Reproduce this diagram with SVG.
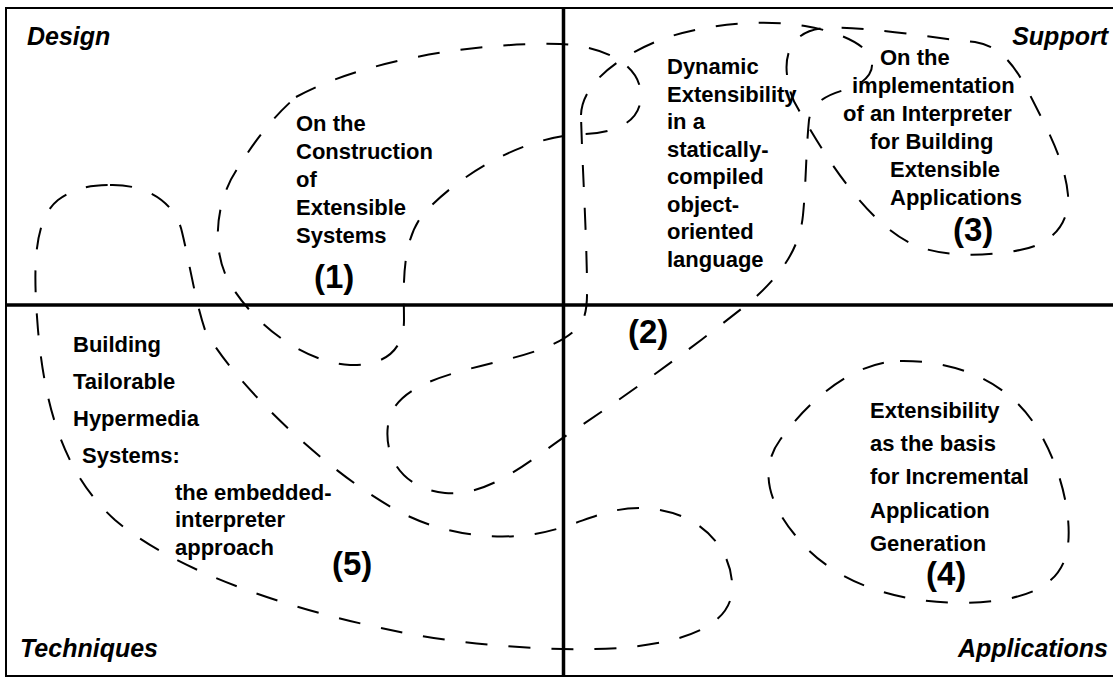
<svg xmlns="http://www.w3.org/2000/svg" width="1113" height="677" viewBox="0 0 1113 677">
  <style>
    .frame { fill: none; stroke: #000; stroke-width: 2; }
    .axis { stroke: #000; stroke-width: 3.5; }
    .blob { fill: none; stroke: #000; stroke-width: 2; stroke-dasharray: 22 21; stroke-linecap: butt; }
    .t { font-family: "Liberation Sans", Arial, sans-serif; font-weight: bold; font-size: 22px; fill: #000; }
    .num { font-family: "Liberation Sans", Arial, sans-serif; font-weight: bold; font-size: 33px; fill: #000; }
    .quad { font-family: "Liberation Sans", Arial, sans-serif; font-weight: bold; font-style: italic; font-size: 25px; fill: #000; }
  </style>
  <rect width="1113" height="677" fill="#fff"/>

  <!-- frame and quadrant axes -->
  <g id="frame">
    <rect class="frame" x="6" y="8" width="1120" height="668"/>
    <line class="axis" x1="6" y1="305" x2="1113" y2="305"/>
    <line class="axis" x1="563.5" y1="8" x2="563.5" y2="677"/>
  </g>

  <!-- quadrant titles -->
  <g id="quadrants">
    <text class="quad" x="27" y="45">Design</text>
    <text class="quad" x="1108" y="45" text-anchor="end">Support</text>
    <text class="quad" x="20" y="657">Techniques</text>
    <text class="quad" x="1108" y="657" text-anchor="end">Applications</text>
  </g>

  <!-- (1) On the Construction of Extensible Systems -->
  <g id="node1">
    <path class="blob" d="M296,97 C360,62 470,42 560,44 C600,46 640,62 641,95 C641,125 610,134 580,134 C520,138 460,175 425,212 C400,240 404,290 404,320 C404,350 385,366 350,365 C300,362 250,320 228,280 C212,250 214,200 240,165 C255,140 275,115 296,97 Z"/>
    <text class="t" x="296" y="131">On the</text>
    <text class="t" x="296" y="159">Construction</text>
    <text class="t" x="296" y="187">of</text>
    <text class="t" x="296" y="215">Extensible</text>
    <text class="t" x="296" y="243">Systems</text>
    <text class="num" x="314" y="288">(1)</text>
  </g>

  <!-- (2) Dynamic Extensibility in a statically-compiled object-oriented language -->
  <g id="node2">
    <path class="blob" d="M581,115 C582,85 615,58 660,40 C700,25 760,18 805,26 C835,31 862,42 870,56 C877,70 866,83 848,89 C828,94 812,102 809,120 C806,150 806,185 803,215 C800,245 785,272 750,302 C690,350 620,400 570,433 C530,460 490,497 445,493 C400,488 384,455 388,425 C393,385 450,374 500,361 C540,352 570,340 582,322 C588,310 587,295 587,280 C586,220 582,160 581,115 Z"/>
    <text class="t" x="667" y="74">Dynamic</text>
    <text class="t" x="667" y="101.5">Extensibility</text>
    <text class="t" x="667" y="129">in a</text>
    <text class="t" x="667" y="156.5">statically-</text>
    <text class="t" x="667" y="184">compiled</text>
    <text class="t" x="667" y="211.5">object-</text>
    <text class="t" x="667" y="239">oriented</text>
    <text class="t" x="667" y="266.5">language</text>
    <text class="num" x="628" y="343">(2)</text>
  </g>

  <!-- (3) On the implementation of an Interpreter for Building Extensible Applications -->
  <g id="node3">
    <path class="blob" d="M787,75 C784,50 795,30 825,28 C870,26 930,38 975,42 C1000,46 1015,65 1030,95 C1045,125 1065,160 1068,195 C1070,225 1050,245 1020,250 C990,256 945,258 914,245 C870,225 830,165 800,112 C792,100 789,90 787,75 Z"/>
    <text class="t" x="880" y="65">On the</text>
    <text class="t" x="852" y="93">implementation</text>
    <text class="t" x="843" y="121">of an Interpreter</text>
    <text class="t" x="870" y="149">for Building</text>
    <text class="t" x="890" y="177">Extensible</text>
    <text class="t" x="890" y="205">Applications</text>
    <text class="num" x="953" y="241">(3)</text>
  </g>

  <!-- (4) Extensibility as the basis for Incremental Application Generation -->
  <g id="node4">
    <path class="blob" d="M900,361 C960,360 1010,385 1035,425 C1058,460 1072,510 1068,545 C1063,590 1020,602 960,603 C890,602 830,580 795,535 C770,505 758,470 780,440 C805,405 850,362 900,361 Z"/>
    <text class="t" x="870" y="418">Extensibility</text>
    <text class="t" x="870" y="451">as the basis</text>
    <text class="t" x="870" y="484">for Incremental</text>
    <text class="t" x="870" y="518">Application</text>
    <text class="t" x="870" y="551">Generation</text>
    <text class="num" x="926" y="585">(4)</text>
  </g>

  <!-- (5) Building Tailorable Hypermedia Systems: the embedded-interpreter approach -->
  <g id="node5">
    <path class="blob" d="M110,185 C150,184 176,205 182,232 C190,265 195,300 205,330 C235,385 330,475 400,512 C440,533 490,541 535,534 C580,526 600,508 640,508 C700,509 735,550 732,592 C728,628 680,643 620,648 C560,652 470,646 400,632 C300,612 180,575 115,520 C65,475 45,410 38,330 C33,270 33,220 58,200 C75,188 90,185 110,185 Z"/>
    <text class="t" x="73" y="352">Building</text>
    <text class="t" x="73" y="389">Tailorable</text>
    <text class="t" x="73" y="426">Hypermedia</text>
    <text class="t" x="82" y="463">Systems:</text>
    <text class="t" x="175" y="500">the embedded-</text>
    <text class="t" x="175" y="527">interpreter</text>
    <text class="t" x="175" y="555">approach</text>
    <text class="num" x="332" y="575">(5)</text>
  </g>

  <!-- no explicit connectors: the overlapping outlines carry the relations -->
  <g id="connectors"/>
</svg>
